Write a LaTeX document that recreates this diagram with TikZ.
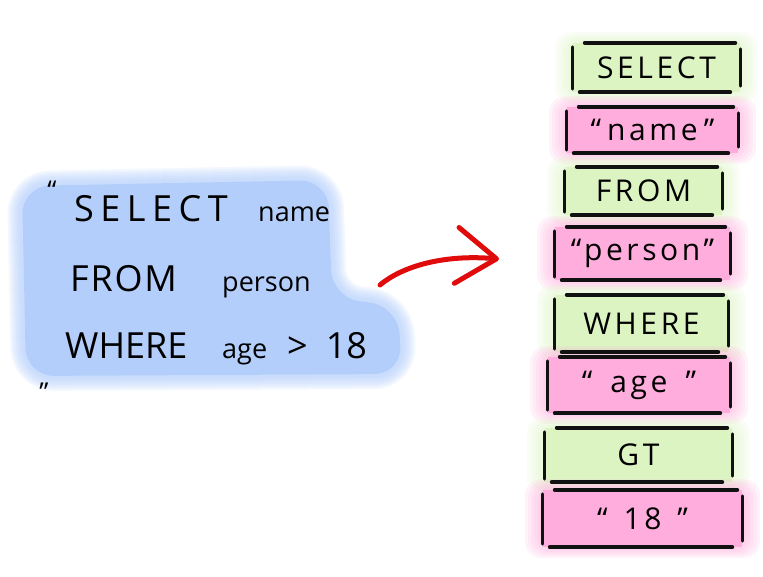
\documentclass[tikz,border=0pt]{standalone}
\usepackage{fontspec}
\setmainfont{Open Sans}
\usepackage{tikz}
\usetikzlibrary{arrows.meta,positioning,backgrounds}
\definecolor{QueryBlue}{HTML}{B4CEFB}
\definecolor{KeyGreen}{HTML}{DCF4C2}
\definecolor{LitPink}{HTML}{FFADDC}
\definecolor{ArrowRed}{HTML}{E00C0C}
\definecolor{InkBlack}{HTML}{111111}
\tikzset{
  % Query text
  QK/.style={anchor=base west,inner sep=0pt,font=\fontsize{36}{40}\selectfont},
  QI/.style={anchor=base west,inner sep=0pt,font=\fontsize{27}{30}\selectfont},
  QQ/.style={inner sep=0pt,font=\fontsize{26}{28}\selectfont},
  % Token box
  TB/.style={rectangle,inner sep=0pt,text centered,
             font=\fontsize{30}{32}\selectfont\addfontfeature{LetterSpace=12}},
  % Box strokes
  rim/.style={line width=4pt,line cap=round,draw=InkBlack},
  side/.style={line width=3pt,line cap=round,draw=InkBlack},
  % Arrow
  redarr/.style={-{Straight Barb[length=40pt,width=56pt,round]},
                 line width=5pt,line cap=round,draw=ArrowRed}
}
\begin{document}
\begin{tikzpicture}[x=1pt,y=-1pt]
  \useasboundingbox (0,0) rectangle (763,577);
  % Query cloud
  \foreach \w in {30,26,...,6}
    \draw[QueryBlue,line width=\w,opacity=0.16,rounded corners=28pt,line join=round]
      (22,186) -- (328,180) -- (332,298) -- (398,306) -- (402,374) -- (26,376) -- cycle;
  \fill[QueryBlue,rounded corners=28pt]
    (22,186) -- (328,180) -- (332,298) -- (398,306) -- (402,374) -- (26,376) -- cycle;

  \node[QQ] (qopen) at (52,190) {“};
  \node[QK] (sel) at (74,222) {\addfontfeature{LetterSpace=18}SELECT};
  \node[QI] (selid) at (258,222) {name};
  \node[QK] (frm) at (70,292) {\addfontfeature{LetterSpace=5}FROM};
  \node[QI] (frmid) at (222,292) {person};
  \node[QK] (whr) at (65,358) {WHERE};
  \node[QI] (whrid) at (222,358)
    {age\hspace{20pt}{\fontsize{36}{40}\selectfont>\hspace{18pt}18}};
  \node[QQ] (qclose) at (44,392) {”};

  % Token stack
  \foreach \n/\l/\r/\t/\b/\c/\s in {
      tk1/573/740/43/92/KeyGreen/SELECT,
      tk2/567/738/107/153/LitPink/{“\hspace{6pt}name\hspace{6pt}”},
      tk3/565/722/167/215/KeyGreen/FROM,
      tk4/555/730/227/280/LitPink/{“person”},
      tk5/555/728/295/352/KeyGreen/WHERE,
      tk6/548/730/357/413/LitPink/{“\hspace{18pt}age\hspace{18pt}”},
      tk7/545/732/428/482/KeyGreen/GT,
      tk8/543/742/490/547/LitPink/{“\hspace{16pt}18\hspace{16pt}”}}
  {
    \begin{scope}[on background layer]
      \foreach \g in {18,15,...,3}
        \fill[\c,opacity=0.14,rounded corners=16pt]
          (\l-\g,\t-\g*0.6) rectangle (\r+\g,\b+\g*0.6);
      \fill[\c] (\l,\t) rectangle (\r,\b);
    \end{scope}
    \node[TB,minimum width={\r-\l},minimum height={\b-\t}] (\n)
      at ({(\l+\r)/2},{(\t+\b)/2}) {\s};
    \draw[rim] ([xshift=12pt]\n.north west) -- ([xshift=-5pt]\n.north east);
    \draw[rim] ([xshift=7pt]\n.south west) -- ([xshift=-10pt]\n.south east);
    \draw[side] ([yshift=-4pt]\n.north west) -- ([yshift=3pt]\n.south west);
    \draw[side] ([yshift=-6pt]\n.north east) -- ([yshift=6pt]\n.south east);
  }

  % Arrow
  \coordinate (arrS) at (380,285);
  \coordinate (arrE) at (499,259);
  \draw[redarr] (arrS) .. controls (400,268) and (440,254) .. (arrE);
\end{tikzpicture}
\end{document}
